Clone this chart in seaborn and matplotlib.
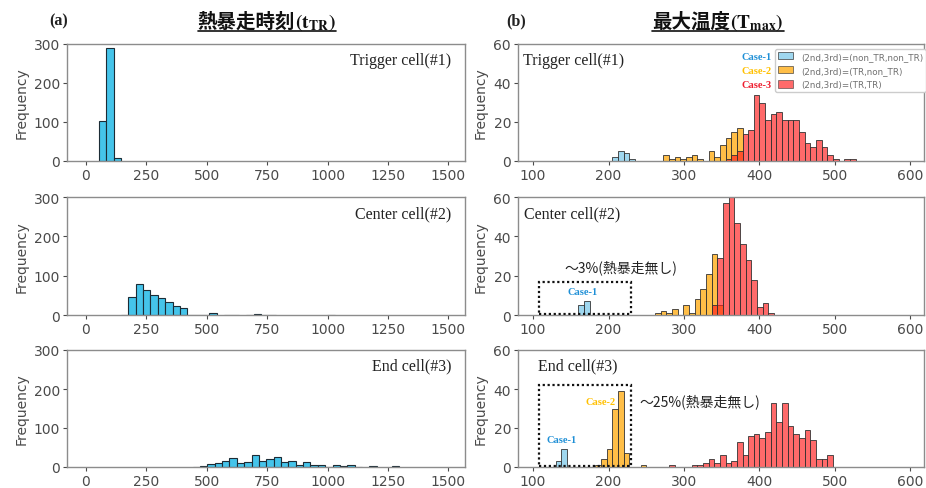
import numpy as np
import pandas as pd
import matplotlib
matplotlib.use("Agg")
import matplotlib.pyplot as plt
import seaborn as sns
from matplotlib.patches import Patch, Rectangle
from matplotlib.lines import Line2D

sns.set_theme(style="ticks")
plt.rcParams["font.family"] = ["DejaVu Sans", "Noto Sans CJK JP"]
plt.rcParams["mathtext.fontset"] = "stix"

# ---------------- (a) thermal-runaway onset time t_TR ----------------
T_WIDTH = 30.5
trig_t_left = [54.0, 84.5, 115.0]
trig_t_count = [102, 290, 7]

center_t_left = [145.5, 176.0, 206.5, 237.0, 267.5, 298.0, 328.5, 359.0, 389.5,
                 420.0, 450.5, 481.0, 511.5, 572.5, 603.0, 664.0, 694.5, 725.0,
                 755.5, 1000.5]
center_t_count = [1, 45, 80, 63, 52, 44, 33, 22, 18,
                  1, 1, 1, 5, 1, 1, 1, 2, 1,
                  1, 1]

end_t_left = [441.5, 472.0, 502.5, 533.0, 563.5, 594.0, 624.5, 655.0, 685.5,
              716.0, 746.5, 777.0, 807.5, 838.0, 868.5, 899.0, 929.5, 960.0,
              990.5, 1021.0, 1051.5, 1082.0, 1112.5, 1173.5, 1265.0]
end_t_count = [1, 2, 8, 10, 15, 22, 10, 13, 30,
               15, 21, 26, 14, 15, 5, 13, 5, 5,
               1, 5, 2, 4, 1, 2, 2]

# ---------------- (b) maximum temperature T_max ----------------
M_WIDTH = 7.5
# trigger cell
trig_c1_left = [205.0, 212.5, 220.0, 227.5]
trig_c1_count = [2, 5, 4, 1]
trig_c2_left = [272.5, 280.0, 287.5, 295.0, 302.5, 310.0, 317.5, 332.5, 340.0,
                347.5, 355.0, 362.5, 370.0]
trig_c2_count = [3, 1, 2, 1, 2, 3, 1, 5, 2,
                 8, 12, 15, 17]
trig_c3_left = [355.0, 362.5, 370.0, 377.5, 385.0, 392.5, 400.0, 407.5, 415.0,
                422.5, 430.0, 437.5, 445.0, 452.5, 460.0, 467.5, 475.0, 482.5,
                490.0, 497.5, 512.5, 520.0]
trig_c3_count = [1, 3, 5, 14, 16, 34, 30, 21, 24,
                 25, 21, 21, 21, 15, 9, 7, 11, 7,
                 3, 1, 1, 1]
# center cell
center_c1_left = [160.0, 167.5]
center_c1_count = [5, 7]
center_c2_left = [261.5, 269.0, 276.5, 284.0, 299.0, 306.5, 314.0, 321.5, 329.0,
                  336.5, 344.0]
center_c2_count = [1, 2, 1, 3, 5, 1, 8, 13, 21,
                   31, 5]
center_c3_left = [336.5, 344.0, 351.5, 359.0, 366.5, 374.0, 381.5, 389.0, 396.5,
                  404.0, 411.5]
center_c3_count = [5, 29, 57, 60, 47, 36, 28, 18, 4,
                   6, 1]
# end cell
end_c1_left = [130.0, 137.5]
end_c1_count = [3, 9]
end_c2_left = [182.5, 190.0, 197.5, 205.0, 212.5, 220.0, 245.0]
end_c2_count = [1, 4, 9, 30, 39, 7, 1]
end_c3_left = [280.0, 310.0, 317.5, 325.0, 332.5, 340.0, 347.5, 355.0, 362.5,
               370.0, 377.5, 385.0, 392.5, 400.0, 407.5, 415.0, 422.5, 430.0,
               437.5, 445.0, 452.5, 460.0, 467.5, 475.0, 482.5, 490.0]
end_c3_count = [1, 1, 1, 2, 4, 2, 6, 2, 3,
                13, 6, 16, 17, 15, 18, 33, 23, 33,
                21, 17, 15, 19, 14, 4, 4, 6]

cell_names = ["Trigger cell(#1)", "Center cell(#2)", "End cell(#3)"]
legend_labels = ["(2nd,3rd)=(non_TR,non_TR)", "(2nd,3rd)=(TR,non_TR)",
                 "(2nd,3rd)=(TR,TR)"]
case_names = ["Case-1", "Case-2", "Case-3"]

CYAN = "#45c4ea"
CASE_FILL = ["#87ceeb", "#ffa500", "#ff1a1a"]
CASE_ALPHA = [0.8, 0.72, 0.65]
CASE_TEXT = ["#1e8fd6", "#ffc000", "#ee1c2e"]

W, H = 926, 489
fig = plt.figure(figsize=(W / 100, H / 100), dpi=100)


def px_rect(x0, y0, x1, y1):
    return [x0 / W, 1 - y1 / H, (x1 - x0) / W, (y1 - y0) / H]


rows = [(45, 162), (198, 316), (351, 468)]
axL = [fig.add_axes(px_rect(67, a, 465, b)) for a, b in rows]
axR = [fig.add_axes(px_rect(518, a, 924, b)) for a, b in rows]


def hist(ax, left, count, width, **kw):
    left = np.asarray(left, float)
    edges = np.arange(left.min(), left.max() + width * 1.5, width).tolist()
    df = pd.DataFrame({"value": left + width / 2,
                       "n": np.asarray(count, float)})
    sns.histplot(data=df, x="value", weights="n", bins=edges, ax=ax,
                 stat="count", **kw)


def style(ax, xlim, ylim, xticks, yticks, ylab_x):
    for p in ax.patches:
        if p.get_height() == 0:
            p.set_visible(False)
    ax.set_xlim(*xlim)
    ax.set_ylim(*ylim)
    ax.set_xticks(xticks)
    ax.set_yticks(yticks)
    ax.tick_params(labelsize=10, colors="#4a4a4a", length=3, width=0.8, pad=2)
    for s in ax.spines.values():
        s.set_visible(True)
        s.set_color("#8c8c8c")
        s.set_linewidth(1.0)
    ax.set_xlabel("")
    ax.set_ylabel("Frequency", fontsize=10, color="#4a4a4a")
    ax.yaxis.set_label_coords(ylab_x, 0.5)


t_data = [(trig_t_left, trig_t_count), (center_t_left, center_t_count),
          (end_t_left, end_t_count)]
for ax, (lft, cnt), name in zip(axL, t_data, cell_names):
    hist(ax, lft, cnt, T_WIDTH, color=CYAN, alpha=1.0, edgecolor="#1c2c36",
         linewidth=0.8)
    style(ax, (-78, 1569), (0, 300), [0, 250, 500, 750, 1000, 1250, 1500],
          [0, 100, 200, 300], -0.097)
    ax.text(0.965, 0.865, name, transform=ax.transAxes, ha="right", va="center",
            fontsize=11.5, family="Liberation Serif", color="#222222")

m_data = [
    [(trig_c1_left, trig_c1_count), (trig_c2_left, trig_c2_count),
     (trig_c3_left, trig_c3_count)],
    [(center_c1_left, center_c1_count), (center_c2_left, center_c2_count),
     (center_c3_left, center_c3_count)],
    [(end_c1_left, end_c1_count), (end_c2_left, end_c2_count),
     (end_c3_left, end_c3_count)],
]
name_x = [0.012, 0.016, 0.05]
for i, (ax, series, name) in enumerate(zip(axR, m_data, cell_names)):
    for k, (lft, cnt) in enumerate(series):
        hist(ax, lft, cnt, M_WIDTH, color=CASE_FILL[k], alpha=CASE_ALPHA[k],
             edgecolor="#333333", linewidth=0.6)
    style(ax, (80, 618), (0, 60), [100, 200, 300, 400, 500, 600],
          [0, 20, 40, 60], -0.076)
    ax.text(name_x[i], 0.865, name, transform=ax.transAxes, ha="left",
            va="center", fontsize=11.5, family="Liberation Serif",
            color="#222222")

# dotted boxes around the cells that did not run away
cjk = ["Noto Sans CJK JP", "DejaVu Sans"]
axR[1].add_patch(Rectangle((108, 0.5), 122, 16.5, fill=False, ls=(0, (1, 1.2)),
                           lw=1.6, ec="#111111", zorder=5))
axR[1].text(142, 24.4, "〜3%(熱暴走無し)", fontsize=10, family=cjk,
            va="center", ha="left", color="#222222")
axR[1].text(166, 12, "Case-1", fontsize=7.5, family="Liberation Serif",
            fontweight="bold", color=CASE_TEXT[0], ha="center", va="center")

axR[2].add_patch(Rectangle((108, 0.5), 122, 41.5, fill=False, ls=(0, (1, 1.2)),
                           lw=1.6, ec="#111111", zorder=5))
axR[2].text(241, 34, "〜25%(熱暴走無し)", fontsize=10, family=cjk,
            va="center", ha="left", color="#222222")
axR[2].text(189, 33.5, "Case-2", fontsize=7.5, family="Liberation Serif",
            fontweight="bold", color=CASE_TEXT[1], ha="center", va="center")
axR[2].text(138, 14, "Case-1", fontsize=7.5, family="Liberation Serif",
            fontweight="bold", color=CASE_TEXT[0], ha="center", va="center")

# legend of the three outcome cases
handles = [Patch(facecolor=CASE_FILL[k], alpha=CASE_ALPHA[k], edgecolor="#333333",
                 linewidth=0.6) for k in range(3)]
leg = axR[0].legend(handles, legend_labels, loc="upper left",
                    bbox_to_anchor=(775 / W, 1 - 50 / H),
                    bbox_transform=fig.transFigure, fontsize=6.3,
                    labelcolor="#707070", frameon=True, borderaxespad=0,
                    borderpad=0.3, handlelength=1.7, handleheight=0.9,
                    handletextpad=1.0, labelspacing=0.6, framealpha=1,
                    edgecolor="#cccccc", fancybox=True)

fig.canvas.draw()
renderer = fig.canvas.get_renderer()
for k, txt in enumerate(leg.get_texts()):
    bb = txt.get_window_extent(renderer)
    yc = (bb.y0 + bb.y1) / 2 / fig.bbox.height
    fig.text(772 / W, yc, case_names[k], ha="right", va="center", fontsize=7.5,
             family="Liberation Serif", fontweight="bold", color=CASE_TEXT[k])


def title(cx, base_y, head, sub):
    t1 = fig.text(0, base_y, head, fontsize=14, fontweight="bold",
                  family=["Noto Sans CJK JP"], va="baseline", color="#111111")
    t2 = fig.text(0, base_y, sub, fontsize=14, va="baseline", color="#111111")
    w1 = t1.get_window_extent(renderer).width / fig.bbox.width
    w2 = t2.get_window_extent(renderer).width / fig.bbox.width
    x0 = cx - (w1 + w2) / 2
    t1.set_x(x0)
    t2.set_x(x0 + w1)
    fig.add_artist(Line2D([x0, x0 + w1 + w2], [1 - 32 / H] * 2,
                          transform=fig.transFigure, color="#111111", lw=1.2))


title(267 / W, 1 - 28 / H, "熱暴走時刻", r"$\mathbf{(t_{TR})}$")
title(718 / W, 1 - 28 / H, "最大温度", r"$\mathbf{(T_{max})}$")

fig.text(49 / W, 1 - 21 / H, "(a)", fontsize=11.5, family="Liberation Serif",
         fontweight="bold", va="center", color="#222222")
fig.text(506 / W, 1 - 21 / H, "(b)", fontsize=11.5, family="Liberation Serif",
         fontweight="bold", va="center", color="#222222")

fig.savefig("out.png", dpi=100)
